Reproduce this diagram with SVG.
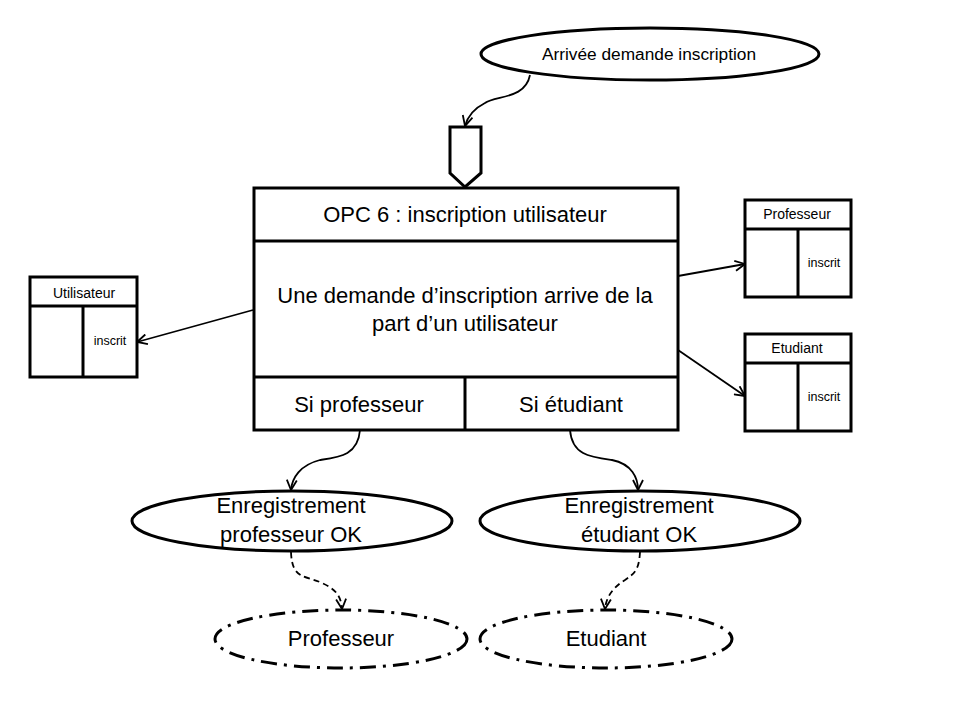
<svg xmlns="http://www.w3.org/2000/svg" width="960" height="720" viewBox="0 0 960 720">
<style>
.box{fill:#fff;stroke:#000;stroke-width:3}
.ln{fill:none;stroke:#000;stroke-width:3}
.ell{fill:#fff;stroke:#000;stroke-width:3}
.dd{fill:#fff;stroke:#000;stroke-width:3;stroke-dasharray:16 7 3 7}
.con{fill:none;stroke:#000;stroke-width:1.8}
.dash{fill:none;stroke:#000;stroke-width:1.8;stroke-dasharray:6 4}
text{font-family:"Liberation Sans",Arial,sans-serif;fill:#000;text-anchor:middle}
.big{font-size:22px}
.mid{font-size:17.3px}
.sm{font-size:14px}
.xs{font-size:12.5px}
</style>
<defs>
<marker id="arr" viewBox="0 0 12 12" refX="11" refY="6" markerWidth="12" markerHeight="12" markerUnits="userSpaceOnUse" orient="auto">
<polyline points="1,1 11,6 1,11" fill="none" stroke="#000" stroke-width="1.8"/>
</marker>
</defs>
<g id="connectors">
<path class="con" d="M530,75 C525,100 495,95 485,103 C475,108 468,115 465,126" marker-end="url(#arr)"/>
<path class="con" d="M253,310 L137,342" marker-end="url(#arr)"/>
<path class="con" d="M678,276 L745,264" marker-end="url(#arr)"/>
<path class="con" d="M678,350 L745,396" marker-end="url(#arr)"/>
<path class="con" d="M360,430 C358,455 340,457 320,460 C300,465 292,478 291,490" marker-end="url(#arr)"/>
<path class="con" d="M570,430 C572,455 590,457 612,460 C632,464 638,478 638,490" marker-end="url(#arr)"/>
<path class="dash" d="M291,552 C292,580 305,575 322,583 C338,590 341,598 342,609" marker-end="url(#arr)"/>
<path class="dash" d="M640,552 C639,570 635,573 625,580 C612,588 606,598 605,609" marker-end="url(#arr)"/>
</g>
<g id="start-event">
<ellipse class="ell" cx="650" cy="54" rx="169" ry="26"/>
<text class="mid" x="649" y="60">Arrivée demande inscription</text>
</g>
<g id="sync">
<polygon class="ln" points="450,127 481,127 481,173 465,187 450,173" fill="#fff"/>
</g>
<g id="opc6">
<rect class="box" x="254" y="188" width="424" height="242"/>
<line class="ln" x1="254" y1="241" x2="678" y2="241"/>
<line class="ln" x1="254" y1="377" x2="678" y2="377"/>
<line class="ln" x1="465" y1="377" x2="465" y2="430"/>
<text class="big" x="465" y="222">OPC 6 : inscription utilisateur</text>
<text class="big" x="465" y="303">Une demande d’inscription arrive de la</text>
<text class="big" x="465" y="331">part d’un utilisateur</text>
<text class="big" x="359" y="412">Si professeur</text>
<text class="big" x="571" y="412">Si étudiant</text>
</g>
<g id="utilisateur">
<rect class="box" x="30" y="277" width="107" height="100"/>
<line class="ln" x1="30" y1="306" x2="137" y2="306"/>
<line class="ln" x1="83" y1="306" x2="83" y2="377"/>
<text class="sm" x="84" y="298">Utilisateur</text>
<text class="xs" x="110" y="345">inscrit</text>
</g>
<g id="professeur-res">
<rect class="box" x="745" y="200" width="106" height="97"/>
<line class="ln" x1="745" y1="229" x2="851" y2="229"/>
<line class="ln" x1="798" y1="229" x2="798" y2="297"/>
<text class="sm" x="797" y="219">Professeur</text>
<text class="xs" x="824" y="267">inscrit</text>
</g>
<g id="etudiant-res">
<rect class="box" x="745" y="334" width="106" height="97"/>
<line class="ln" x1="745" y1="363" x2="851" y2="363"/>
<line class="ln" x1="798" y1="363" x2="798" y2="431"/>
<text class="sm" x="797" y="353">Etudiant</text>
<text class="xs" x="824" y="401">inscrit</text>
</g>
<g id="ok-prof">
<ellipse class="ell" cx="292" cy="521" rx="160" ry="30"/>
<text class="big" x="291" y="513">Enregistrement</text>
<text class="big" x="291" y="542">professeur OK</text>
</g>
<g id="ok-etud">
<ellipse class="ell" cx="640" cy="521" rx="160" ry="30"/>
<text class="big" x="639" y="513">Enregistrement</text>
<text class="big" x="639" y="542">étudiant OK</text>
</g>
<g id="prof-state">
<ellipse class="dd" cx="341" cy="639" rx="126" ry="29"/>
<text class="big" x="341" y="646">Professeur</text>
</g>
<g id="etud-state">
<ellipse class="dd" cx="606" cy="639" rx="126" ry="29"/>
<text class="big" x="606" y="646">Etudiant</text>
</g>
</svg>
